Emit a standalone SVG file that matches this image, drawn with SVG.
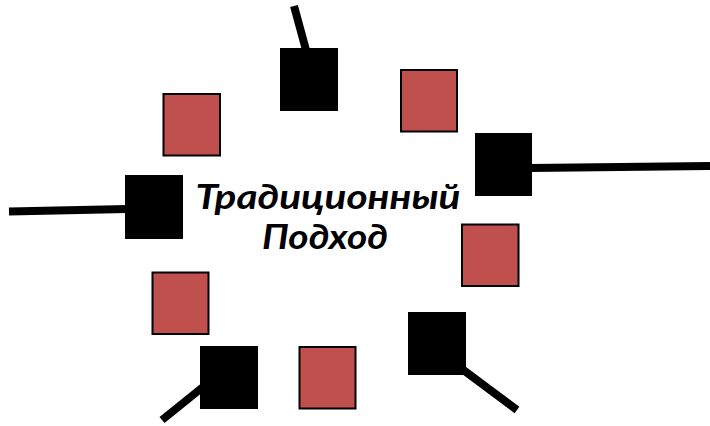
<svg xmlns="http://www.w3.org/2000/svg" width="710" height="426" viewBox="0 0 710 426">
  <style>
    .port { fill: #000000; }
    .block { fill: #C0504D; stroke: #000000; stroke-width: 2; }
    .wire { stroke: #000000; stroke-width: 8; fill: none; stroke-linecap: butt; }
    .title { font-family: Lato, "Open Sans", "Liberation Sans", sans-serif; font-weight: bold; font-style: italic; font-size: 34px; fill: #000000; text-anchor: middle; }
  </style>
  <rect width="710" height="426" fill="#ffffff"/>

  <!-- connectors -->
  <g id="connectors">
    <line class="wire" x1="294" y1="6" x2="306" y2="50"/>
    <line class="wire" x1="530" y1="168" x2="710" y2="166"/>
    <line class="wire" x1="9" y1="211.5" x2="127" y2="209"/>
    <line class="wire" x1="162" y1="420" x2="203" y2="387"/>
    <line class="wire" x1="462" y1="369" x2="517" y2="410"/>
  </g>

  <!-- black ports -->
  <g id="port-top"><rect class="port" x="280" y="48" width="58" height="63"/></g>
  <g id="port-right"><rect class="port" x="475" y="133" width="57" height="63"/></g>
  <g id="port-left"><rect class="port" x="125" y="175" width="58" height="64"/></g>
  <g id="port-bottom-left"><rect class="port" x="200" y="346" width="58" height="63"/></g>
  <g id="port-bottom-right"><rect class="port" x="408" y="312" width="58" height="63"/></g>

  <!-- red blocks -->
  <g id="block-1"><rect class="block" x="163.5" y="94" width="56.5" height="61.5"/></g>
  <g id="block-2"><rect class="block" x="401" y="70" width="56" height="61.5"/></g>
  <g id="block-3"><rect class="block" x="462" y="224.5" width="56.5" height="61.5"/></g>
  <g id="block-4"><rect class="block" x="152.5" y="272.5" width="56" height="61.5"/></g>
  <g id="block-5"><rect class="block" x="299.5" y="347" width="56" height="61.5"/></g>

  <!-- caption -->
  <g id="caption">
    <text class="title" x="328" y="209" textLength="265" lengthAdjust="spacingAndGlyphs">Традиционный</text>
    <text class="title" x="325" y="249" textLength="126" lengthAdjust="spacingAndGlyphs">Подход</text>
  </g>
</svg>
